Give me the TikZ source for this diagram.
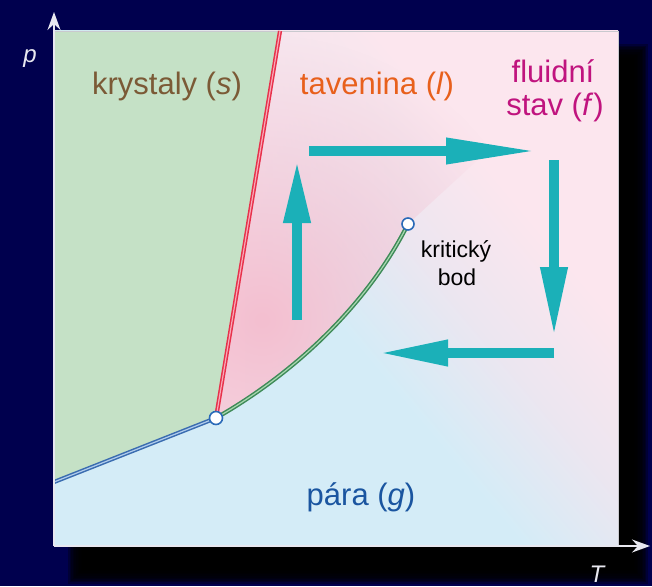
\documentclass[tikz,border=0pt]{standalone}
\usepackage{fontspec}
\setmainfont{Liberation Sans}
\usetikzlibrary{arrows.meta,fadings}
\definecolor{navy}{HTML}{00004E}
\definecolor{vblue}{HTML}{D4ECF7}
\definecolor{lav}{HTML}{ECE6F0}
\definecolor{lpink}{HTML}{FCE6EE}
\definecolor{dpink}{HTML}{F4BFD0}
\definecolor{sgreen}{HTML}{C5E1C6}
\definecolor{meltred}{HTML}{E8304A}
\definecolor{meltin}{HTML}{F8A8B8}
\definecolor{subblue}{HTML}{3A6CB0}
\definecolor{subin}{HTML}{B0CCEC}
\definecolor{vapgreen}{HTML}{3E8A58}
\definecolor{vapin}{HTML}{A8D8B0}
\definecolor{teal}{HTML}{1BB0B8}
\definecolor{tbrown}{HTML}{7B5A36}
\definecolor{torange}{HTML}{E8601C}
\definecolor{tmag}{HTML}{C0147E}
\definecolor{tblue}{HTML}{1A55A0}
\definecolor{ptblue}{HTML}{2A6AB8}
\definecolor{axisc}{HTML}{E8E8F0}
\pgfdeclarehorizontalshading{phase}{100bp}{color(0bp)=(vblue); color(48bp)=(vblue); color(58bp)=(lav); color(68bp)=(lpink); color(100bp)=(lpink)}
\tikzfading[name=blob, inner color=transparent!0, outer color=transparent!100]
\tikzfading[name=fadeR, left color=transparent!0, right color=transparent!100]
\tikzset{
  lbl/.style={font=\fontsize{31}{33}\selectfont, anchor=base, inner sep=0pt},
  small/.style={font=\fontsize{23}{26}\selectfont, anchor=base, inner sep=0pt, text=black},
  axlbl/.style={font=\fontsize{24}{26}\selectfont\itshape, text=axisc, anchor=base, inner sep=0pt},
  axis/.style={draw=axisc, line width=1.5pt, -{Stealth[length=18pt, width=13pt, inset=6pt]}},
  flow/.style={draw=teal, line width=10pt},
  pt/.style={circle, draw=ptblue, line width=1.6pt, fill=white, minimum size=13pt, inner sep=0pt},
  bound/.style={line width=1.5pt, double distance=1.2pt}
}
\begin{document}
\begin{tikzpicture}[x=1pt,y=-1pt]
\useasboundingbox (0,0) rectangle (652,586);
\fill[navy] (0,0) rectangle (652,586);
% shadow
\foreach \i in {0,...,9} {
  \fill[black, opacity=0.3] ({68+\i*1.6},{44+\i*1.6}) rectangle ({648-\i*1.6},{584-\i*1.6});
}
% coordinates
\coordinate (PTL) at (54,31);
\coordinate (PBR) at (618,546);
\coordinate (O) at (54,546);
\coordinate (M1) at (280,31);
\coordinate (SB) at (54,482);
\coordinate (TPc) at (216,418);
\coordinate (CPc) at (408,224);
% panel background
\shade[shading=phase, shading angle=40] (PTL) rectangle (PBR);
% liquid
\begin{scope}
  \clip (M1) -- (TPc) .. controls (300,370) and (370,300) .. (CPc) -- (618,31) -- cycle;
  \fill[lpink] (54,31) rectangle (201,546);
  \fill[lpink, path fading=fadeR] (200,31) rectangle (420,546);
  \fill[dpink, path fading=blob] (262,320) circle (285);
\end{scope}
% solid
\fill[sgreen] (PTL) -- (M1) -- (TPc) -- (SB) -- cycle;
\draw[draw=axisc!70!gray, line width=0.6pt] (PTL) rectangle (PBR);
% boundaries
\draw[bound, draw=meltred, double=meltin] (TPc) -- (M1);
\draw[bound, draw=subblue, double=subin] (TPc) -- (SB);
\draw[bound, draw=vapgreen, double=vapin] (TPc) .. controls (300,370) and (370,300) .. (CPc);
\node[pt] (tp) at (TPc) {};
\node[pt, minimum size=12pt] (cp) at (CPc) {};
% axes
\coordinate (YT) at (54,12);
\coordinate (XT) at (650,546);
\draw[axis] (O) -- (YT);
\draw[axis] (O) -- (XT);
\node[axlbl] (p) at (30,62) {p};
\node[axlbl] (T) at (597,582) {T};
% flow arrows
\coordinate (A1s) at (297,320); \coordinate (A1e) at (297,160);
\coordinate (A2s) at (309,151); \coordinate (A2e) at (538,151);
\coordinate (A3s) at (554,160); \coordinate (A3e) at (554,337);
\coordinate (A4s) at (554,353); \coordinate (A4e) at (378,353);
\draw[flow, -{Triangle[length=63pt, width=25pt]}] (A1s) -- (A1e);
\draw[flow, -{Triangle[length=92pt, width=24pt]}] (A2s) -- (A2e);
\draw[flow, -{Triangle[length=70pt, width=25pt]}] (A3s) -- (A3e);
\draw[flow, -{Triangle[length=70pt, width=24pt]}] (A4s) -- (A4e);
% labels
\node[lbl, text=tbrown] (ks) at (167,94) {krystaly (\textit{s})};
\node[lbl, text=torange] (tl) at (377,94) {tavenina (\textit{l})};
\node[lbl, text=tmag] (f1) at (553,82) {fluidní};
\node[lbl, text=tmag] (f2) at (555,115) {stav (\textit{f})};
\node[lbl, text=tblue] (pg) at (361,505) {pára (\textit{g})};
\node[small] (k1) at (456,257) {kritický};
\node[small] (k2) at (457,285) {bod};
\end{tikzpicture}
\end{document}
